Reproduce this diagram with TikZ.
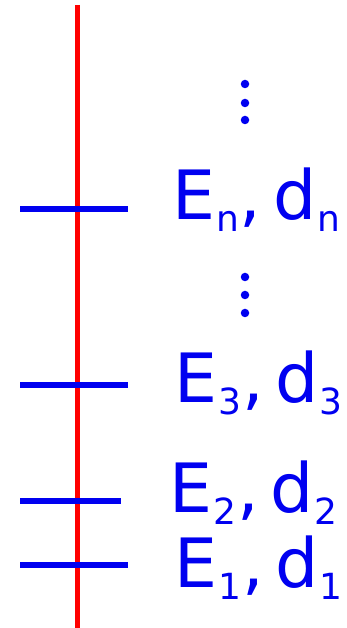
\documentclass[tikz,border=0pt]{standalone}
\usepackage{fontspec}
\setmainfont{DejaVu Sans}
\definecolor{lvlblue}{RGB}{0,0,240}
\definecolor{axisred}{RGB}{255,0,0}
\newcommand{\subtxt}[1]{\hspace{1pt}\raisebox{-12pt}{\fontsize{36}{36}\selectfont #1}}
\newcommand{\lvllab}[1]{E\subtxt{#1}\hspace{1pt},\hspace{12pt}d\subtxt{#1}}
\begin{document}
\begin{tikzpicture}[x=1pt,y=1pt,
  level/.style={draw=lvlblue,line width=6pt},
  axis/.style={draw=axisred,line width=5pt},
  lab/.style={text=lvlblue,font=\fontsize{68}{68}\selectfont,anchor=base west,inner sep=0pt},
  dot/.style={circle,fill=lvlblue,minimum size=8.5pt,inner sep=0pt}]
\useasboundingbox (0,0) rectangle (347,628);
\coordinate (top) at (77,623);
\coordinate (bot) at (77,0);
\draw[axis] (top) -- (bot);
\coordinate (nL) at (20,419); \coordinate (nR) at (128,419);
\coordinate (tL) at (20,243); \coordinate (tR) at (128,243);
\coordinate (sL) at (20,127); \coordinate (sR) at (121,127);
\coordinate (oL) at (20,63);  \coordinate (oR) at (128,63);
\draw[level] (nL) -- (nR);
\draw[level] (tL) -- (tR);
\draw[level] (sL) -- (sR);
\draw[level] (oL) -- (oR);
\node[lab] (En) at (172,408) {\lvllab{n}};
\node[lab] (E3) at (174,225) {\lvllab{3}};
\node[lab] (E2) at (169,115) {\lvllab{2}};
\node[lab] (E1) at (174,40) {\lvllab{1}};
\node[dot] (d1) at (245,544) {};
\node[dot] (d2) at (245,525) {};
\node[dot] (d3) at (245,508) {};
\node[dot] (d4) at (245,351) {};
\node[dot] (d5) at (245,333) {};
\node[dot] (d6) at (245,315) {};
\end{tikzpicture}
\end{document}
